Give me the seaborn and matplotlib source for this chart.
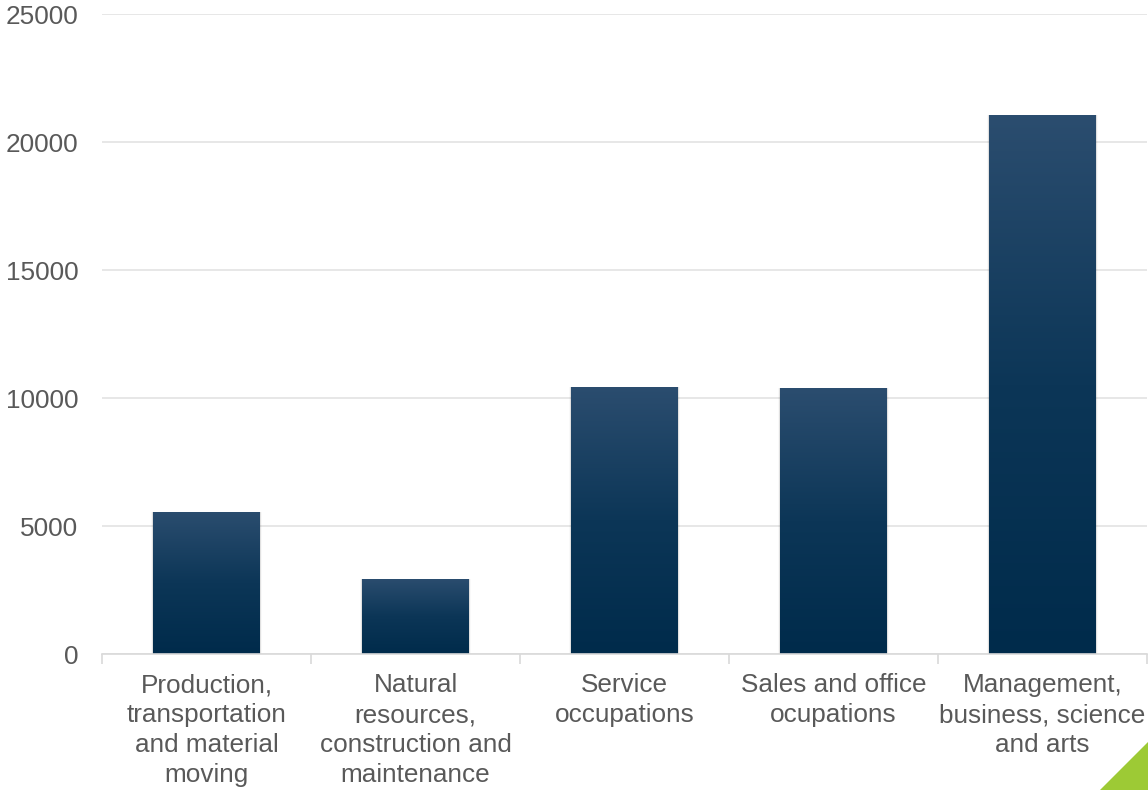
import numpy as np
import pandas as pd
import matplotlib
matplotlib.use("Agg")
import matplotlib.pyplot as plt
from matplotlib.patches import Polygon
from matplotlib.colors import LinearSegmentedColormap
from matplotlib.ticker import FixedLocator
import seaborn as sns

categories = [
    "Production,\ntransportation\nand material\nmoving",
    "Natural\nresources,\nconstruction and\nmaintenance",
    "Service\noccupations",
    "Sales and office\nocupations",
    "Management,\nbusiness, science\nand arts",
]
values = [5550, 2930, 10430, 10390, 21050]
y_ticks = [0, 5000, 10000, 15000, 20000, 25000]

df = pd.DataFrame({"category": categories, "value": values})

sns.set_theme(style="white")
plt.rcParams["font.family"] = ["Liberation Sans", "DejaVu Sans"]

W, H, DPI = 1148, 790, 100
fig = plt.figure(figsize=(W / DPI, H / DPI), dpi=DPI)
ax = fig.add_axes([102 / W, (H - 654) / H, 1045 / W, 640 / H])

sns.barplot(data=df, x="category", y="value", ax=ax, width=0.51,
            color="#1b3f62", saturation=1, linewidth=0, zorder=3)

text_col = "#595959"
grid_col = "#e3e3e3"
fs = 18.8
ax.set_xlabel("")
ax.set_ylabel("")
ax.yaxis.grid(True, color=grid_col, linewidth=1.2, zorder=0)
ax.xaxis.grid(False)
for side in ["left", "right", "top"]:
    ax.spines[side].set_visible(False)
ax.spines["bottom"].set_color("#d9d9d9")
ax.spines["bottom"].set_linewidth(1.2)
ax.spines["bottom"].set_zorder(4)

# vertical gradient fill + soft shadow for each bar
cmap = LinearSegmentedColormap.from_list("bar", ["#002b4b", "#0c3657", "#2b4d6f"])
grad = np.linspace(0, 1, 256).reshape(-1, 1)
for patch in list(ax.patches):
    x0, y0 = patch.get_x(), patch.get_y()
    w, h = patch.get_width(), patch.get_height()
    for i, a in enumerate([0.06, 0.04, 0.025]):
        dx = 0.004 * (i + 1)
        sh = plt.Rectangle((x0 - dx, y0), w + 2 * dx, h,
                           facecolor="black", alpha=a, linewidth=0, zorder=2.5)
        ax.add_patch(sh)
    im = ax.imshow(grad, extent=[x0, x0 + w, y0, y0 + h], origin="lower",
                   aspect="auto", cmap=cmap, zorder=3.1)
    im.set_clip_path(patch)

ax.set_xlim(-0.5, len(categories) - 0.5)
ax.set_ylim(0, 25000)
ax.set_yticks(y_ticks)
ax.set_yticklabels([str(t) for t in y_ticks])

ax.tick_params(axis="y", length=0, pad=17, labelsize=fs, labelcolor=text_col)
ax.tick_params(axis="x", which="major", length=0, pad=14, labelsize=fs,
               labelcolor=text_col)

# short separator ticks between categories
ax.xaxis.set_minor_locator(FixedLocator(np.arange(-0.5, len(categories))))
ax.tick_params(axis="x", which="minor", bottom=True, length=7,
               color="#d9d9d9", width=1.2)

for lbl in ax.get_xticklabels():
    lbl.set_linespacing(1.3)
    lbl.set_ha("center")

# corner accent
tri = Polygon([(1100 / W, 0), (1, 0), (1, (H - 742) / H)], closed=True,
              transform=fig.transFigure, facecolor="#9dca35", edgecolor="none")
fig.patches.append(tri)

fig.savefig("out.png", dpi=DPI, facecolor="white")
